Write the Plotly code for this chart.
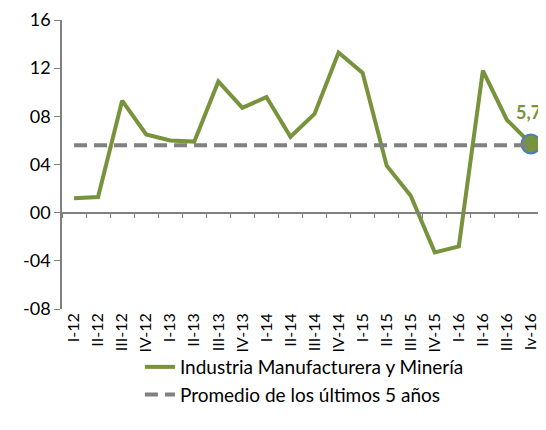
import plotly.graph_objects as go

# trimestres
quarters = ["I-12", "II-12", "III-12", "IV-12",
            "I-13", "II-13", "III-13", "IV-13",
            "I-14", "II-14", "III-14", "IV-14",
            "I-15", "II-15", "III-15", "IV-15",
            "I-16", "II-16", "III-16", "Iv-16"]

industria = [1.2, 1.3, 9.3, 6.5, 6.0, 5.9, 10.9, 8.7, 9.6, 6.3,
             8.2, 13.3, 11.6, 3.9, 1.4, -3.3, -2.8, 11.8, 7.7, 5.7]

promedio = [5.6] * len(quarters)

y_ticks = [-8, -4, 0, 4, 8, 12, 16]
y_labels = ["-08", "-04", "00", "04", "08", "12", "16"]

green = "#77933C"
gray = "#808080"
font = "Lato"

fig = go.Figure()

fig.add_trace(go.Scatter(
    x=quarters, y=industria, mode="lines",
    name="Industria Manufacturera y Minería",
    line=dict(color=green, width=4),
))
fig.add_trace(go.Scatter(
    x=quarters, y=promedio, mode="lines", xaxis="x2",
    name="Promedio de los últimos 5 años",
    line=dict(color=gray, width=4, dash="13px,7px"),
))
# último punto resaltado
fig.add_trace(go.Scatter(
    x=[quarters[-1]], y=[industria[-1]], mode="markers",
    showlegend=False,
    marker=dict(size=19, color=green, line=dict(color="#4A7EC2", width=2)),
))

fig.add_annotation(
    x=quarters[-1], y=industria[-1], text="<b>5,7</b>",
    showarrow=False, yshift=32, xshift=-2,
    font=dict(family=font, size=18, color=green),
)

# la página agrega 8px de margen al body, se compensa aquí
fig.update_layout(
    width=538, height=422,
    margin=dict(l=54, r=3, t=12, b=121, autoexpand=False),
    paper_bgcolor="white", plot_bgcolor="white",
    font=dict(family=font, size=16, color="black"),
    showlegend=True,
    legend=dict(
        x=0.162, y=-0.135, xanchor="left", yanchor="top",
        bgcolor="rgba(0,0,0,0)",
        font=dict(family=font, size=19), tracegroupgap=0,
        itemwidth=30,
    ),
    xaxis=dict(
        type="category", categoryarray=quarters, range=[-0.5, 19.5],
        showline=False, ticks="", showgrid=False, zeroline=False,
        tickangle=-90, tickfont=dict(family=font, size=16),
    ),
    xaxis2=dict(
        type="category", categoryarray=quarters, range=[-0.5, 19.5],
        overlaying="x", anchor="free", position=1/3,
        showline=True, linecolor=gray, linewidth=1.5,
        ticks="outside", tickson="boundaries", ticklen=5, tickcolor=gray,
        showticklabels=False, showgrid=False, zeroline=False,
    ),
    yaxis=dict(
        range=[-8, 16], tickvals=y_ticks, ticktext=y_labels,
        showline=True, linecolor=gray, linewidth=1.5,
        ticks="outside", ticklen=6, tickcolor=gray,
        showgrid=False, zeroline=False,
        tickfont=dict(family=font, size=18),
    ),
)

fig.write_html("out.html")
